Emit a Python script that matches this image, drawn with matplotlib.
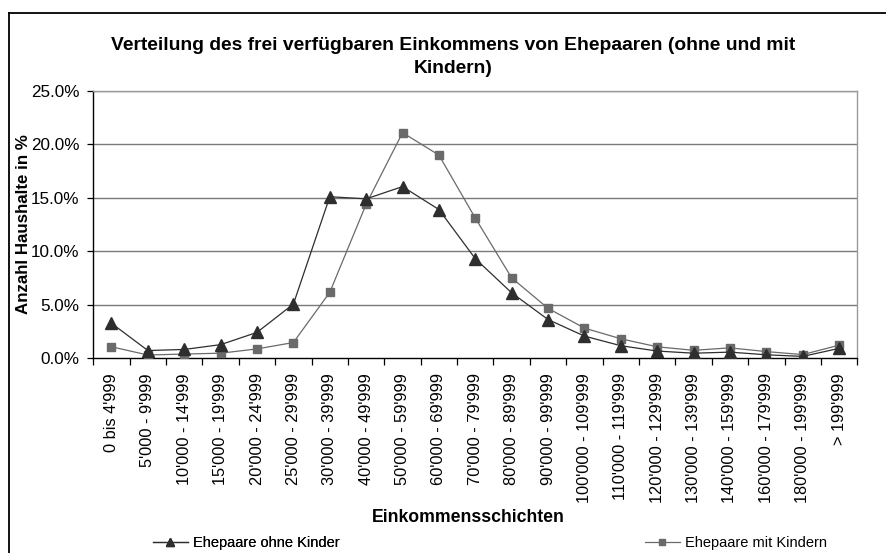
import matplotlib
matplotlib.use("Agg")
import matplotlib.pyplot as plt
from matplotlib.lines import Line2D

plt.rcParams['font.family'] = ['Liberation Sans', 'DejaVu Sans']

categories = ["0 bis 4'999", "5'000 - 9'999", "10'000 - 14'999", "15'000 - 19'999",
              "20'000 - 24'999", "25'000 - 29'999", "30'000 - 39'999", "40'000 - 49'999",
              "50'000 - 59'999", "60'000 - 69'999", "70'000 - 79'999", "80'000 - 89'999",
              "90'000 - 99'999", "100'000 - 109'999", "110'000 - 119'999", "120'000 - 129'999",
              "130'000 - 139'999", "140'000 - 159'999", "160'000 - 179'999", "180'000 - 199'999",
              "> 199'999"]
ohne_kinder = [3.25, 0.7, 0.8, 1.25, 2.4, 5.05, 15.1, 14.9, 16.05, 13.9, 9.3, 6.1, 3.6,
               2.05, 1.15, 0.65, 0.45, 0.55, 0.3, 0.15, 0.9]
mit_kindern = [1.05, 0.28, 0.37, 0.45, 0.85, 1.45, 6.15, 14.4, 21.1, 19.0, 13.1, 7.5, 4.65,
               2.8, 1.8, 1.05, 0.72, 0.95, 0.6, 0.32, 1.2]
yticks = [0, 5, 10, 15, 20, 25]

W, H = 887, 553
fig = plt.figure(figsize=(W / 100, H / 100), dpi=100)
ax = fig.add_axes([93.3 / W, 1 - 358 / H, (857.3 - 93.3) / W, (358 - 91) / H])

x = list(range(len(categories)))
ax.plot(x, ohne_kinder, color='#2e2e2e', lw=0.9, marker='^', ms=8,
        markerfacecolor='#2e2e2e', markeredgecolor='#2e2e2e', zorder=4,
        label='Ehepaare ohne Kinder')
ax.plot(x, mit_kindern, color='#6a6a6a', lw=0.9, marker='s', ms=5.8,
        markerfacecolor='#6a6a6a', markeredgecolor='#6a6a6a', zorder=3,
        label='Ehepaare mit Kindern')

ax.set_xlim(-0.5, len(categories) - 0.5)
ax.set_ylim(0, 25)
ax.set_yticks(yticks)
ax.set_yticklabels([f"{v:.1f}%" for v in yticks], fontsize=12.3)
ax.set_xticks(x)
ax.set_xticklabels(categories, rotation=90, fontsize=11.8)
ax.set_xticks([i - 0.5 for i in range(len(categories) + 1)], minor=True)
ax.tick_params(axis='x', which='major', length=0, pad=11)
ax.tick_params(axis='x', which='minor', length=5, width=0.9, color='black', direction='out')
ax.tick_params(axis='y', length=4, width=0.9, color='black', pad=6)

for v in yticks[1:]:
    ax.axhline(v, color='#7a7a7a', lw=1.0, zorder=1)

for s in ['top', 'right']:
    ax.spines[s].set_color('#9a9a9a')
    ax.spines[s].set_linewidth(1.0)
for s in ['left', 'bottom']:
    ax.spines[s].set_color('black')
    ax.spines[s].set_linewidth(1.0)

ax.set_ylabel('Anzahl Haushalte in %', fontsize=12.2, fontweight='bold')
ax.yaxis.set_label_coords(-(93.3 - 31) / (857.3 - 93.3), 0.5)

fig.text(453 / W, 1 - 57 / H,
         'Verteilung des frei verfügbaren Einkommens von Ehepaaren (ohne und mit\nKindern)',
         ha='center', va='center', fontsize=13.9, fontweight='bold', linespacing=1.5)
fig.text(468 / W, 1 - 517 / H, 'Einkommensschichten', ha='center', va='center',
         fontsize=12.7, fontweight='bold')

# outer chart frame (left and top edges visible)
fig.add_artist(Line2D([9 / W, 9 / W], [0, 1 - 13 / H], color='black', lw=1.3,
                      transform=fig.transFigure))
fig.add_artist(Line2D([9 / W, 1], [1 - 13 / H, 1 - 13 / H], color='black', lw=1.3,
                      transform=fig.transFigure))

h1, h2 = ax.get_lines()[0], ax.get_lines()[1]
leg1 = fig.legend([h1], [h1.get_label()], loc='center left',
                  bbox_to_anchor=(153 / W, 1 - 543 / H), frameon=False, fontsize=10.5,
                  handlelength=2.4, handletextpad=0.35, borderpad=0, borderaxespad=0,
                  markerscale=0.8)
fig.add_artist(leg1)
fig.legend([h2], [h2.get_label()], loc='center left',
           bbox_to_anchor=(645 / W, 1 - 543 / H), frameon=False, fontsize=10.5,
           handlelength=2.4, handletextpad=0.35, borderpad=0, borderaxespad=0,
           markerscale=0.8)

fig.savefig('out.png', dpi=100)
